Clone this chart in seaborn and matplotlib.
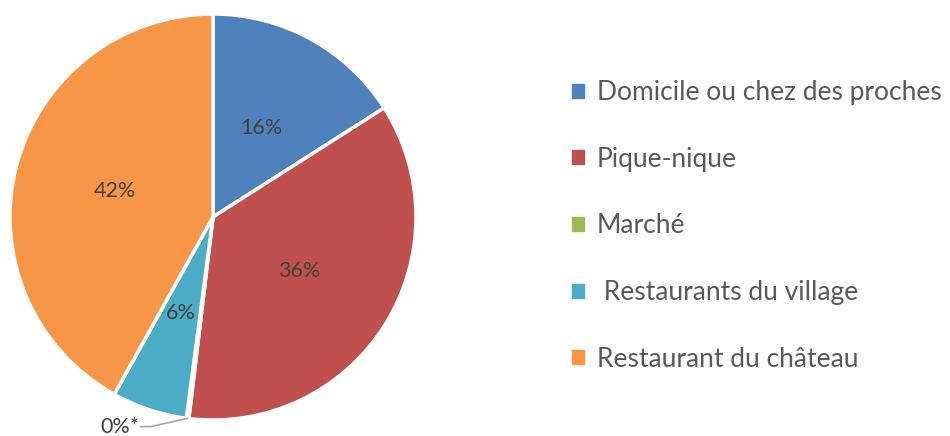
import matplotlib
matplotlib.use("Agg")
import matplotlib.pyplot as plt
import numpy as np
import seaborn as sns

sns.set_theme(style="white")
plt.rcParams['font.family'] = ['Lato', 'DejaVu Sans']

# data
categories = ['Domicile ou chez des proches', 'Pique-nique', 'Marché',
              ' Restaurants du village', 'Restaurant du château']
shares = [16, 36, 0.2, 6, 42]
pct_labels = ['16%', '36%', '0%*', '6%', '42%']
colors = ['#4F81BD', '#C0504D', '#9BBB59', '#4BACC6', '#F79646']

fig = plt.figure(figsize=(9.5, 4.36), dpi=100)
# pie axes: centre ~ (213, 217) px, radius ~ 203 px
ax = fig.add_axes([(213 - 205) / 950, (436 - 217 - 205) / 436, 410 / 950, 410 / 436])

wedges, _ = ax.pie(shares, colors=colors, startangle=90, counterclock=False,
                   radius=203 / 205,
                   wedgeprops=dict(edgecolor='white', linewidth=2.5))
ax.set_xlim(-1, 1)
ax.set_ylim(-1, 1)
ax.set_aspect('equal')

for w, lab, val in zip(wedges, pct_labels, shares):
    theta = np.deg2rad((w.theta1 + w.theta2) / 2)
    if val >= 1:
        r = 0.5 * 203 / 205
        ax.text(r * np.cos(theta), r * np.sin(theta), lab, ha='center', va='center',
                fontsize=15.5, color='#404040')
    else:
        # tiny slice: label outside with a leader line
        edge = (np.cos(theta) * 203 / 205, np.sin(theta) * 203 / 205)
        kink = (edge[0] - 0.18, edge[1] - 0.04)
        end = (kink[0] - 0.05, kink[1])
        ax.plot([edge[0], kink[0], end[0]], [edge[1], kink[1], end[1]],
                color='#A6A6A6', lw=1.2, clip_on=False)
        ax.text(end[0] - 0.005, end[1], lab, ha='right', va='center',
                fontsize=15.5, color='#404040', clip_on=False)

handles = [plt.Rectangle((0, 0), 1, 1, color=c) for c in colors]
fig.legend(handles, categories, loc='upper left', bbox_to_anchor=(572 / 950, 1 - 80 / 436),
           frameon=False, fontsize=19, labelcolor='#595959', handlelength=0.45,
           handleheight=0.45, handletextpad=0.5, labelspacing=1.58, borderaxespad=0,
           borderpad=0)

fig.savefig('out.png', dpi=100)
